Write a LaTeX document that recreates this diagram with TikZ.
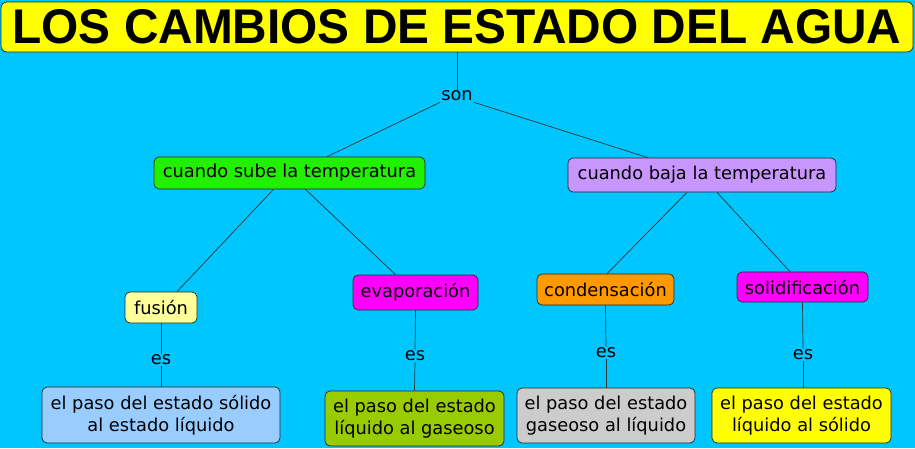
\documentclass[tikz,border=0pt]{standalone}
\usepackage{fontspec}
\setmainfont{DejaVu Sans}
\newfontfamily\titlefont{Liberation Sans}
\definecolor{bgc}{HTML}{00C6FF}
\definecolor{ctitle}{HTML}{FFFF00}
\definecolor{csube}{HTML}{22F000}
\definecolor{cbaja}{HTML}{C896FF}
\definecolor{cfus}{HTML}{FFFF99}
\definecolor{cmag}{HTML}{FF00FF}
\definecolor{corange}{HTML}{FF9900}
\definecolor{cb1}{HTML}{99CCFF}
\definecolor{cb2}{HTML}{99CC00}
\definecolor{cb3}{HTML}{CCCCCC}
\definecolor{cb4}{HTML}{FFFF00}
\tikzset{
  cbox/.style={draw=black!85, line width=0.7pt, rounded corners=5pt, inner sep=0pt, align=center,
    font=\fontsize{17.8}{21.5}\selectfont},
  lbl/.style={inner sep=1pt, font=\fontsize{17.8}{21.5}\selectfont},
  conn/.style={draw=black!80, line width=0.7pt}
}
\begin{document}
\begin{tikzpicture}[x=1pt,y=-1pt]
\fill[bgc] (0,0) rectangle (915,448);
\useasboundingbox (0,0) rectangle (915,448);
\node[cbox, fill=ctitle, minimum width=912pt, minimum height=50pt, rounded corners=6pt] (title) at (457,27)
  {\titlefont\bfseries\resizebox{889pt}{34pt}{LOS CAMBIOS DE ESTADO DEL AGUA}};
\node[lbl] (son) at (457,96) {son};
\node[cbox, fill=csube, minimum width=271pt, minimum height=32pt] (sube) at (289.5,173) {cuando sube la temperatura};
\node[cbox, fill=cbaja, minimum width=268pt, minimum height=34pt] (baja) at (702,175) {cuando baja la temperatura};
\node[cbox, fill=cfus, minimum width=72pt, minimum height=31pt] (fus) at (161,307.5) {fusión};
\node[cbox, fill=cmag, minimum width=125pt, minimum height=35pt] (evap) at (415.5,292.5) {evaporación};
\node[cbox, fill=corange, minimum width=137pt, minimum height=31pt] (cond) at (605.5,289.5) {condensación};
\node[cbox, fill=cmag, minimum width=131pt, minimum height=30pt] (sol) at (802.5,287) {solidificación};
\node[cbox, fill=cb1, minimum width=238pt, minimum height=56pt] (b1) at (161,415) {el paso del estado sólido\\al estado líquido};
\node[cbox, fill=cb2, minimum width=179pt, minimum height=55pt] (b2) at (414.5,418.5) {el paso del estado\\líquido al gaseoso};
\node[cbox, fill=cb3, minimum width=178pt, minimum height=55pt] (b3) at (606,415.5) {el paso del estado\\gaseoso al líquido};
\node[cbox, fill=cb4, minimum width=179pt, minimum height=55pt] (b4) at (801.5,415.5) {el paso del estado\\líquido al sólido};
\node[lbl] (es1) at (161,360) {es};
\node[lbl] (es2) at (415,356) {es};
\node[lbl] (es3) at (606,353) {es};
\node[lbl] (es4) at (803,355) {es};
\draw[conn] (title.south) -- (son.north);
\draw[conn] (son.south west) -- ([xshift=37.5pt]sube.north);
\draw[conn] (son.south east) -- ([xshift=-54pt]baja.north);
\draw[conn] ([xshift=-16pt]sube.south) -- ([xshift=16pt]fus.north);
\draw[conn] ([xshift=16pt]sube.south) -- ([xshift=-20pt]evap.north);
\draw[conn] ([xshift=-15pt]baja.south) -- ([xshift=1.5pt]cond.north);
\draw[conn] ([xshift=15pt]baja.south) -- ([xshift=-12.5pt]sol.north);
\draw[conn] (fus.south) -- (es1.north);
\draw[conn] (es1.south) -- (b1.north);
\draw[conn] (evap.south) -- (es2.north);
\draw[conn] (es2.south) -- (b2.north);
\draw[conn] (cond.south) -- (es3.north);
\draw[conn] (es3.south) -- (b3.north);
\draw[conn] (sol.south) -- (es4.north);
\draw[conn] (es4.south) -- (es4.south |- b4.north);
\end{tikzpicture}
\end{document}
